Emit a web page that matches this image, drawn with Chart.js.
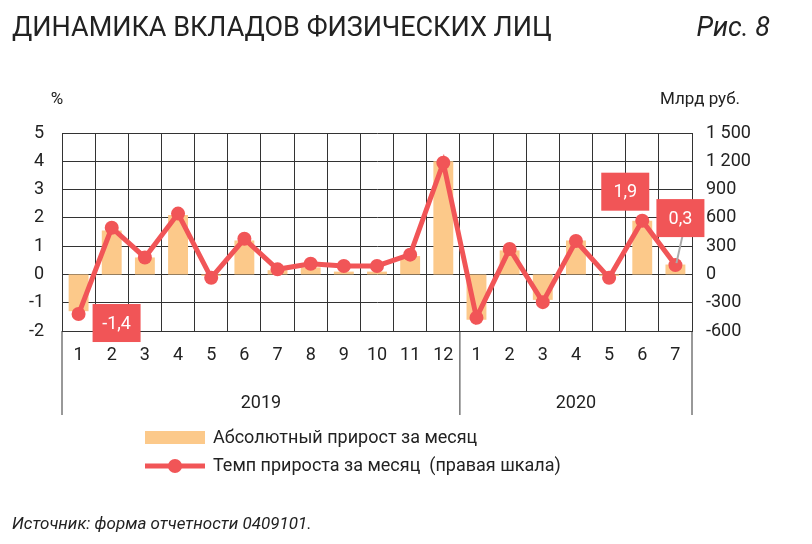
<!DOCTYPE html>
<html>
<head>
<meta charset="utf-8">
<script src="https://cdn.jsdelivr.net/npm/chart.js@4"></script>
<style>
  html, body { margin: 0; padding: 0; background: #fff; }
  #wrap { position: relative; width: 812px; height: 544px; }
</style>
</head>
<body>
<div id="wrap"><canvas id="c" width="812" height="544"></canvas></div>
<script>
var months = ['1','2','3','4','5','6','7','8','9','10','11','12','1','2','3','4','5','6','7'];
var years = [{ label: '2019', from: 0, to: 11 }, { label: '2020', from: 12, to: 18 }];
// absolute growth, bn rub (right scale)
var absGrowth = [-390, 465, 180, 630, -15, 360, 45, 75, 30, 30, 195, 1200, -480, 255, -270, 360, -15, 570, 105];
// growth rate, % (left scale)
var growthRate = [-1.4, 1.65, 0.6, 2.15, -0.12, 1.26, 0.18, 0.38, 0.3, 0.3, 0.7, 3.95, -1.53, 0.9, -0.98, 1.18, -0.12, 1.9, 0.33];
var callouts = [
  { index: 0, text: '-1,4', dx: 38, dy: 9, leader: false },
  { index: 17, text: '1,9', dx: -17, dy: -29, leader: false },
  { index: 18, text: '0,3', dx: 5, dy: -47, leader: true }
];

var FONT = '"Liberation Sans Narrow", Roboto, sans-serif';
var RED = '#f15557';
var ORANGE = '#fcc98a';

var decor = {
  id: 'decor',
  afterDraw: function (chart) {
    var ctx = chart.ctx, x = chart.scales.x, yl = chart.scales.y, a = chart.chartArea;
    ctx.save();
    // title
    ctx.fillStyle = '#222';
    ctx.font = '27px ' + FONT;
    ctx.textBaseline = 'middle';
    ctx.textAlign = 'left';
    ctx.fillText('ДИНАМИКА ВКЛАДОВ ФИЗИЧЕСКИХ ЛИЦ', 12, 29);
    ctx.font = 'italic 27px ' + FONT;
    ctx.textAlign = 'right';
    ctx.fillText('Рис. 8', 770, 29);
    // axis units
    ctx.font = '17px ' + FONT;
    ctx.textAlign = 'center';
    ctx.fillText('%', 57, 100);
    ctx.fillText('Млрд руб.', 700, 100);
    // year row
    ctx.strokeStyle = '#333';
    ctx.lineWidth = 1;
    var w = (x.getPixelForValue(1) - x.getPixelForValue(0));
    var seps = [a.left, x.getPixelForValue(11) + w / 2, a.right];
    seps.forEach(function (sx) {
      ctx.beginPath(); ctx.moveTo(sx, a.bottom); ctx.lineTo(sx, 415); ctx.stroke();
    });
    ctx.font = '18px ' + FONT;
    years.forEach(function (yr) {
      var cx = (x.getPixelForValue(yr.from) + x.getPixelForValue(yr.to)) / 2;
      ctx.fillText(yr.label, cx, 403);
    });
    // callouts
    callouts.forEach(function (c) {
      var px = x.getPixelForValue(c.index), py = yl.getPixelForValue(growthRate[c.index]);
      var bx = px + c.dx, by = py + c.dy;
      if (c.leader) {
        ctx.strokeStyle = '#aaa'; ctx.lineWidth = 2;
        ctx.beginPath(); ctx.moveTo(bx + 2, by + 18); ctx.lineTo(px + 1, py - 2); ctx.stroke();
      }
      ctx.fillStyle = RED;
      ctx.fillRect(bx - 24, by - 19, 48, 38);
      ctx.fillStyle = '#fff';
      ctx.font = '18px ' + FONT;
      ctx.fillText(c.text, bx, by + 1);
    });
    // legend
    ctx.fillStyle = ORANGE;
    ctx.fillRect(145, 431, 60, 13);
    ctx.strokeStyle = RED; ctx.lineWidth = 5;
    ctx.beginPath(); ctx.moveTo(145, 466); ctx.lineTo(205, 466); ctx.stroke();
    ctx.fillStyle = RED;
    ctx.beginPath(); ctx.arc(175, 466, 7, 0, Math.PI * 2); ctx.fill();
    ctx.fillStyle = '#222';
    ctx.textAlign = 'left';
    ctx.font = '18px ' + FONT;
    ctx.fillText('Абсолютный прирост за месяц', 213, 438);
    ctx.fillText('Темп прироста за месяц  (правая шкала)', 213, 466);
    // source
    ctx.font = 'italic 17px ' + FONT;
    ctx.fillText('Источник: форма отчетности 0409101.', 12, 525);
    ctx.restore();
  }
};

new Chart(document.getElementById('c'), {
  data: {
    labels: months,
    datasets: [
      {
        type: 'line',
        data: growthRate,
        yAxisID: 'y',
        borderColor: RED,
        backgroundColor: RED,
        borderWidth: 5,
        pointRadius: 7,
        pointBackgroundColor: RED,
        pointBorderWidth: 0,
        tension: 0,
        order: 0
      },
      {
        type: 'bar',
        data: absGrowth,
        yAxisID: 'y1',
        backgroundColor: ORANGE,
        barPercentage: 0.6,
        categoryPercentage: 1,
        order: 1
      }
    ]
  },
  options: {
    responsive: false,
    animation: false,
    layout: { padding: { top: 133, bottom: 129, left: 0, right: 0 } },
    plugins: { legend: { display: false }, tooltip: { enabled: false } },
    scales: {
      x: {
        offset: true,
        grid: { offset: true, color: '#333', drawTicks: false },
        border: { color: '#333' },
        ticks: { color: '#222', font: { family: FONT, size: 18 }, padding: 14, maxRotation: 0, autoSkip: false },
        afterFit: function (s) { s.height = 84; }
      },
      y: {
        position: 'left',
        min: -2, max: 5,
        grid: { color: '#333', drawTicks: false },
        border: { color: '#333' },
        ticks: { stepSize: 1, color: '#222', font: { family: FONT, size: 18 }, padding: 18 },
        afterFit: function (s) { s.width = 62; }
      },
      y1: {
        position: 'right',
        min: -600, max: 1500,
        grid: { display: false, drawTicks: false },
        border: { color: '#333' },
        ticks: {
          stepSize: 300, color: '#222', font: { family: FONT, size: 18 }, padding: 14,
          callback: function (v) { return v >= 1000 ? Math.floor(v / 1000) + ' ' + String(v % 1000).padStart(3, '0') : v; }
        },
        afterFit: function (s) { s.width = 120; }
      }
    }
  },
  plugins: [decor]
});
</script>
</body>
</html>
